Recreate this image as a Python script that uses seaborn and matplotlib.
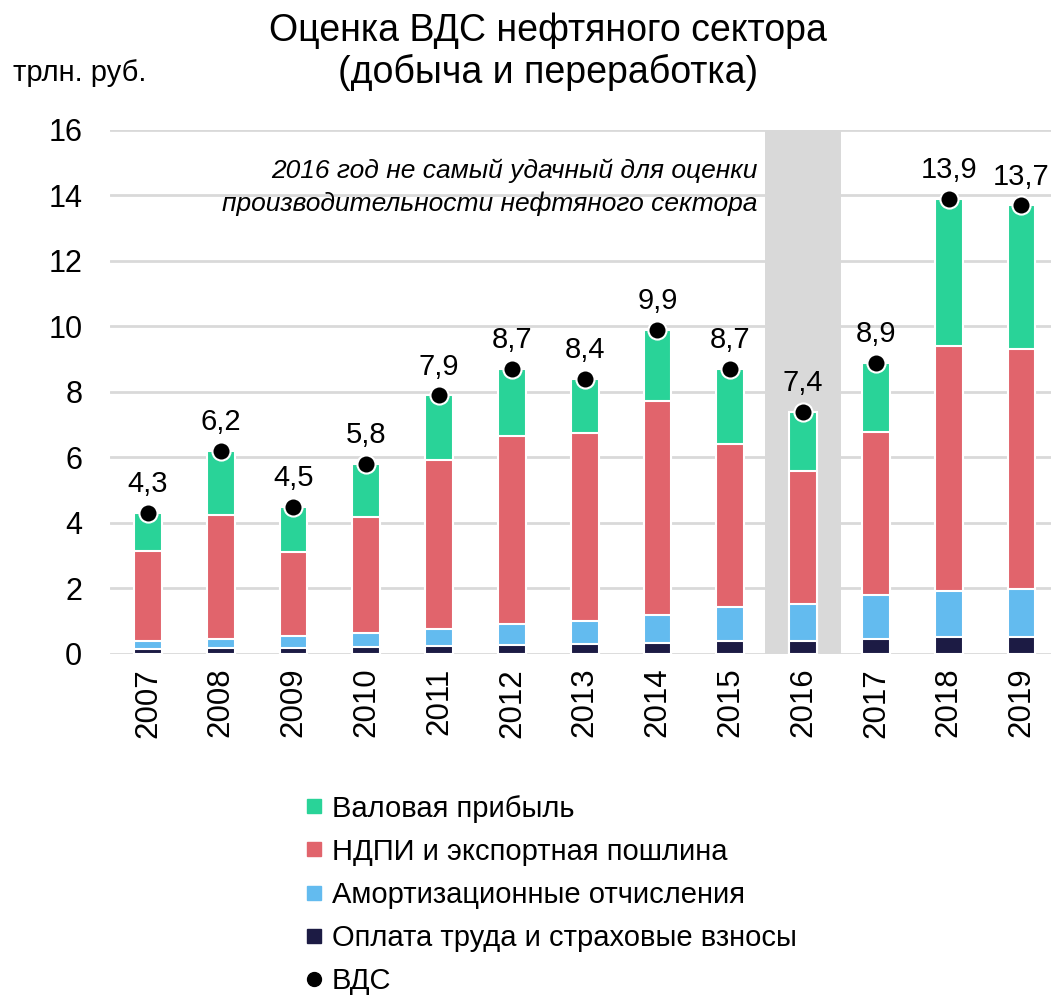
import numpy as np
import pandas as pd
import seaborn as sns
import matplotlib.pyplot as plt
from matplotlib.lines import Line2D

# data (трлн. руб.)
years = ['2007', '2008', '2009', '2010', '2011', '2012', '2013',
         '2014', '2015', '2016', '2017', '2018', '2019']
wages = [0.15, 0.17, 0.18, 0.20, 0.23, 0.27, 0.30, 0.34, 0.39, 0.40, 0.46, 0.51, 0.53]
amort = [0.24, 0.28, 0.37, 0.44, 0.54, 0.65, 0.72, 0.84, 1.05, 1.13, 1.33, 1.41, 1.46]
taxes = [2.75, 3.79, 2.55, 3.55, 5.14, 5.73, 5.74, 6.53, 4.97, 4.07, 4.99, 7.49, 7.32]
profit = [1.16, 1.96, 1.40, 1.61, 1.99, 2.05, 1.64, 2.19, 2.29, 1.80, 2.12, 4.49, 4.39]
gva = [4.3, 6.2, 4.5, 5.8, 7.9, 8.7, 8.4, 9.9, 8.7, 7.4, 8.9, 13.9, 13.7]

names = ['Валовая прибыль', 'НДПИ и экспортная пошлина',
         'Амортизационные отчисления', 'Оплата труда и страховые взносы']
colors = ['#29d398', '#e1646c', '#63bbef', '#1c1b44']

sns.set_style('white')
plt.rcParams['font.family'] = ['Liberation Sans', 'DejaVu Sans']
plt.rcParams['text.color'] = 'black'
plt.rcParams['xtick.color'] = 'black'
plt.rcParams['ytick.color'] = 'black'

df = pd.DataFrame({'year': years, 'wages': wages, 'amort': amort,
                   'taxes': taxes, 'profit': profit, 'gva': gva})
df['c1'] = df['wages']
df['c2'] = df['c1'] + df['amort']
df['c3'] = df['c2'] + df['taxes']
df['c4'] = df['c3'] + df['profit']

fig = plt.figure(figsize=(10.58, 9.96), dpi=100)
ax = fig.add_axes([0.104, 0.3434, 0.889, 0.5261])

# highlight 2016
ax.axvspan(8.48, 9.52, color='#d9d9d9', zorder=0, lw=0)

# stacked bars drawn as overlapping cumulative bars
for col, c in zip(['c4', 'c3', 'c2', 'c1'], colors):
    sns.barplot(data=df, x='year', y=col, color=c, width=0.38,
                edgecolor='white', linewidth=1.5, saturation=1, ax=ax, zorder=3)

xs = np.arange(len(years))
sns.scatterplot(x=xs, y=df['gva'], color='black', s=170, edgecolor='white',
                linewidth=1.5, ax=ax, zorder=5)
for x, v in zip(xs, gva):
    ax.text(x, v + 0.45, f'{v:.1f}'.replace('.', ','), ha='center', va='bottom',
            fontsize=21)

ax.set_ylim(0, 16)
ax.set_xlim(-0.52, 12.4)
ax.set_yticks(range(0, 17, 2))
ax.yaxis.grid(True, color='#d9d9d9', lw=2, zorder=1)
ax.set_axisbelow(True)
for s in ax.spines.values():
    s.set_visible(False)
ax.set_xlabel('')
ax.set_ylabel('')
ax.tick_params(axis='y', labelsize=22, length=0, pad=20)
ax.tick_params(axis='x', labelsize=22.5, length=0, rotation=90, pad=10)

ax.text(8.37, 14.25, '2016 год не самый удачный для оценки\nпроизводительности нефтяного сектора',
        ha='right', va='center', fontsize=19, style='italic', linespacing=1.4,
        zorder=6)

fig.text(0.518, 0.948, 'Оценка ВДС нефтяного сектора\n(добыча и переработка)',
         ha='center', va='center', fontsize=27, linespacing=1.2)
fig.text(0.012, 0.927, 'трлн. руб.', ha='left', va='center', fontsize=21)

handles = [Line2D([], [], marker='s', ls='none', color=c, markersize=10) for c in colors]
handles.append(Line2D([], [], marker='o', ls='none', color='black', markersize=10))
fig.legend(handles, names + ['ВДС'], loc='upper left', bbox_to_anchor=(0.272, 0.214),
           frameon=False, fontsize=21, handletextpad=0.1, handlelength=1,
           labelspacing=0.52, borderaxespad=0)

fig.savefig('out.png', dpi=100)
